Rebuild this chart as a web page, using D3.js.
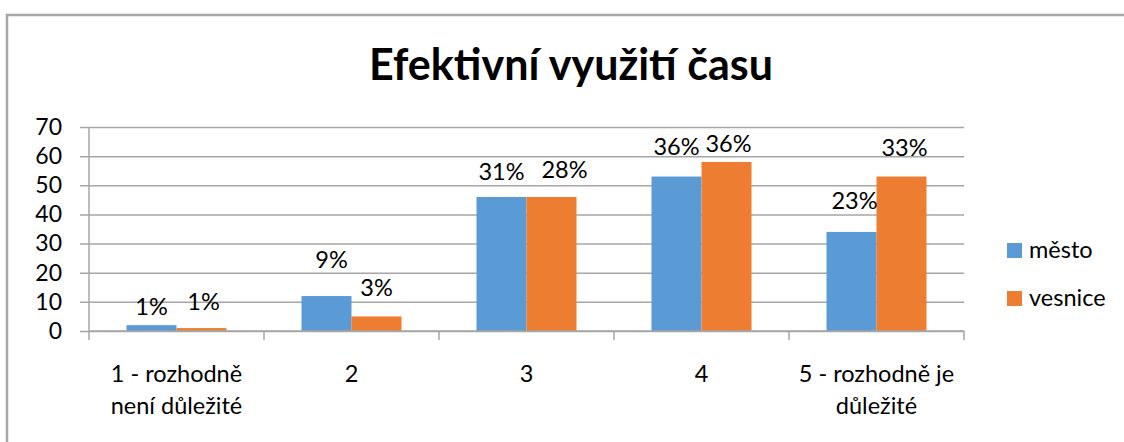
<!DOCTYPE html>
<html>
<head>
<meta charset="utf-8">
<script src="https://cdn.jsdelivr.net/npm/d3@7"></script>
<style>
  html, body { margin: 0; padding: 0; background: #fff; }
  svg { display: block; font-family: Lato, "Open Sans", sans-serif; }
</style>
</head>
<body>
<svg id="svg" width="1124" height="442"></svg>
<script>
  // data
  var categories = [['1 - rozhodně', 'není důležité'], ['2'], ['3'], ['4'], ['5 - rozhodně je', 'důležité']];
  var seriesNames = ['město', 'vesnice'];
  var mesto   = [2, 12, 46, 53, 34];
  var vesnice = [1, 5, 46, 58, 53];
  var mestoLabels   = ['1%', '9%', '31%', '36%', '23%'];
  var vesniceLabels = ['1%', '3%', '28%', '36%', '33%'];
  var yTicks = [0, 10, 20, 30, 40, 50, 60, 70];

  // label placement, moved by hand in the original
  var labelNudge = [
    { dx: [0, 5, 0, 0, 3],  up: [10, 28, 17, 22, 23] },
    { dx: [2, 0, 13, 2, 3], up: [18, 20, 19, 10, 21] }
  ];

  var colors = ['#5b9bd5', '#ed7d31'],
      gridColor = '#a6a6a6';

  var svg = d3.select('#svg');

  // frame
  svg.append('rect')
    .attr('x', 7).attr('y', 15)
    .attr('width', 1200).attr('height', 500)
    .attr('fill', 'none')
    .attr('stroke', gridColor)
    .attr('stroke-width', 2.5);

  svg.append('text')
    .attr('x', 571).attr('y', 80)
    .attr('text-anchor', 'middle')
    .attr('font-size', 43)
    .attr('font-weight', 'bold')
    .attr('fill', '#000')
    .text('Efektivní využití času');

  // plot area (nb: "top" is taken by window.top)
  var pLeft = 89, pRight = 964, pTop = 127, pBottom = 331;

  var x = d3.scaleBand()
    .domain(d3.range(categories.length))
    .range([pLeft, pRight]);

  var xInner = d3.scaleBand()
    .domain(d3.range(seriesNames.length))
    .range([0, x.bandwidth()])
    .paddingOuter(0.75);

  var y = d3.scaleLinear()
    .domain([0, 70])
    .range([pBottom, pTop]);

  // grid + y labels
  var yAxis = svg.append('g')
    .attr('transform', 'translate(' + pLeft + ',0)')
    .call(d3.axisLeft(y).tickValues(yTicks).tickSize(-(pRight - pLeft)).tickSizeOuter(0).tickPadding(0));
  yAxis.select('.domain').remove();
  yAxis.selectAll('.tick line')
    .attr('x1', -9)
    .attr('stroke', gridColor)
    .attr('stroke-width', 1.5);
  yAxis.selectAll('.tick text')
    .attr('x', -27)
    .attr('font-size', 23)
    .attr('font-family', 'Lato, sans-serif')
    .attr('fill', '#000');

  // y axis line
  svg.append('line')
    .attr('x1', pLeft).attr('x2', pLeft)
    .attr('y1', pTop).attr('y2', pBottom)
    .attr('stroke', gridColor).attr('stroke-width', 1.5);

  // bars
  var series = [mesto, vesnice],
      labels = [mestoLabels, vesniceLabels];

  series.forEach(function (values, s) {
    svg.selectAll('.bar' + s)
      .data(values)
      .enter()
        .append('rect')
        .attr('class', 'bar' + s)
        .attr('x', function (d, i) { return x(i) + xInner(s); })
        .attr('y', function (d) { return y(d); })
        .attr('width', xInner.bandwidth())
        .attr('height', function (d) { return y(0) - y(d); })
        .attr('fill', colors[s]);
  });

  // x axis
  var xAxis = svg.append('g')
    .attr('transform', 'translate(0,' + pBottom + ')');
  xAxis.append('line')
    .attr('x1', pLeft).attr('x2', pRight)
    .attr('stroke', gridColor).attr('stroke-width', 1.5);
  xAxis.selectAll('.xtick')
    .data(d3.range(categories.length + 1))
    .enter()
      .append('line')
      .attr('x1', function (d) { return pLeft + d * x.step(); })
      .attr('x2', function (d) { return pLeft + d * x.step(); })
      .attr('y1', 0).attr('y2', 9)
      .attr('stroke', gridColor).attr('stroke-width', 1.5);

  var catText = svg.selectAll('.cat')
    .data(categories)
    .enter()
      .append('text')
      .attr('class', 'cat')
      .attr('text-anchor', 'middle')
      .attr('font-size', 23.5)
      .attr('fill', '#000');
  catText.selectAll('tspan')
    .data(function (d, i) { return d.map(function (t) { return { t: t, i: i }; }); })
    .enter()
      .append('tspan')
      .attr('x', function (d) { return x(d.i) + x.bandwidth() / 2; })
      .attr('y', function (d, j) { return 382 + j * 32; })
      .text(function (d) { return d.t; });

  // data labels
  series.forEach(function (values, s) {
    svg.selectAll('.lab' + s)
      .data(values)
      .enter()
        .append('text')
        .attr('class', 'lab' + s)
        .attr('text-anchor', 'middle')
        .attr('font-size', 23.5)
        .attr('fill', '#000')
        .attr('x', function (d, i) { return x(i) + xInner(s) + xInner.bandwidth() / 2 + labelNudge[s].dx[i]; })
        .attr('y', function (d, i) { return y(d) - labelNudge[s].up[i]; })
        .text(function (d, i) { return labels[s][i]; });
  });

  // legend
  var legend = svg.selectAll('.legend')
    .data(seriesNames)
    .enter()
      .append('g')
      .attr('transform', function (d, i) { return 'translate(1007,' + (243 + i * 48) + ')'; });
  legend.append('rect')
    .attr('width', 15).attr('height', 15)
    .attr('fill', function (d, i) { return colors[i]; });
  legend.append('text')
    .attr('x', 22).attr('y', 15)
    .attr('font-size', 23.5)
    .attr('fill', '#000')
    .text(function (d) { return d; });
</script>
</body>
</html>
